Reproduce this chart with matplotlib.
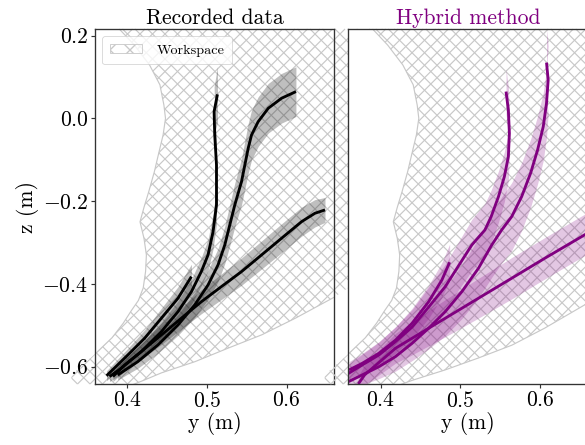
import matplotlib

matplotlib.use("Agg")
import matplotlib.patches as mpatches
import matplotlib.pyplot as plt
import numpy as np
from matplotlib.collections import LineCollection

plt.rcParams["font.family"] = "cmr10"
plt.rcParams["mathtext.fontset"] = "cm"
plt.rcParams["axes.formatter.use_mathtext"] = True
plt.rcParams["hatch.linewidth"] = 1.6

# Workspace boundary (y, z) in metres.
ws_left_y = [0.380, 0.390, 0.409, 0.428, 0.441, 0.446, 0.448, 0.445, 0.440, 0.434, 0.427, 0.421,
             0.416, 0.421, 0.424, 0.423, 0.420, 0.414, 0.405, 0.395, 0.381, 0.362, 0.330]
ws_left_z = [0.26, 0.216, 0.177, 0.129, 0.081, 0.032, 0.0, -0.04, -0.08, -0.129, -0.177, -0.215,
             -0.25, -0.29, -0.33, -0.37, -0.41, -0.44, -0.465, -0.495, -0.53, -0.565, -0.62]
ws_bottom_rec_y = [0.330, 0.390, 0.409, 0.422, 0.443, 0.485, 0.527, 0.569, 0.611, 0.660, 0.700, 0.750, 0.750]
ws_bottom_rec_z = [-0.70, -0.657, -0.642, -0.632, -0.615, -0.588, -0.555, -0.523, -0.483, -0.432, -0.38, -0.38, 0.26]
ws_bottom_hyb_y = [0.330, 0.410, 0.427, 0.440, 0.481, 0.523, 0.565, 0.606, 0.656, 0.700, 0.750, 0.750]
ws_bottom_hyb_z = [-0.70, -0.655, -0.642, -0.633, -0.608, -0.579, -0.548, -0.507, -0.451, -0.40, -0.40, 0.26]

# Recorded trajectories: mean path and spread (std in z) per point.
rec_y = [
    [0.374, 0.4008, 0.4218, 0.4428, 0.4637, 0.4805],
    [0.3777, 0.3925, 0.4176, 0.4428, 0.4637, 0.4805, 0.493, 0.5014, 0.5077, 0.512, 0.512, 0.5098, 0.509, 0.5132],
    [0.388, 0.4133, 0.4385, 0.4637, 0.4847, 0.5014, 0.514, 0.5224, 0.5287, 0.535, 0.5434, 0.5476, 0.5518,
     0.556, 0.5643, 0.577, 0.5937, 0.6117],
    [0.382, 0.3966, 0.4176, 0.4428, 0.4679, 0.4931, 0.5182, 0.5434, 0.5686, 0.5937, 0.6189, 0.6356, 0.6482],
]
rec_z = [
    [-0.622, -0.5717, -0.5314, -0.483, -0.4347, -0.3825],
    [-0.624, -0.604, -0.5637, -0.5154, -0.467, -0.419, -0.370, -0.33, -0.2737, -0.209, -0.1125, -0.04, 0.0163, 0.058],
    [-0.62, -0.5879, -0.5476, -0.4993, -0.4509, -0.4026, -0.354, -0.306, -0.2575, -0.209, -0.153, -0.1125, -0.0722,
     -0.04, -0.008, 0.0245, 0.0487, 0.0647],
    [-0.624, -0.596, -0.5637, -0.5234, -0.483, -0.443, -0.4066, -0.3704, -0.33, -0.2897, -0.2495, -0.2293, -0.2213],
]
rec_std = [
    [0.012, 0.016, 0.02, 0.024, 0.028, 0.03],
    [0.012, 0.014, 0.018, 0.022, 0.026, 0.03, 0.034, 0.038, 0.042, 0.046, 0.05, 0.055, 0.06, 0.067],
    [0.012, 0.016, 0.02, 0.025, 0.03, 0.035, 0.04, 0.045, 0.05, 0.053, 0.056, 0.058, 0.06, 0.06, 0.06, 0.06,
     0.06, 0.06],
    [0.012, 0.015, 0.019, 0.023, 0.026, 0.029, 0.031, 0.033, 0.034, 0.035, 0.035, 0.033, 0.03],
]

# Hybrid method trajectories.
hyb_y = [
    [0.3604, 0.377, 0.398, 0.419, 0.4396, 0.4604, 0.477, 0.4867],
    [0.355, 0.36, 0.377, 0.398, 0.41875, 0.4396, 0.4604, 0.48125, 0.4979, 0.5146, 0.531, 0.5388, 0.548, 0.5554,
     0.5604, 0.5617, 0.5604, 0.5575],
    [0.36, 0.377, 0.398, 0.41875, 0.4396, 0.4604, 0.48125, 0.5021, 0.5229, 0.5396, 0.552, 0.5646, 0.5771, 0.5883,
     0.5971, 0.6042, 0.6083, 0.6104, 0.6083],
    [0.372, 0.38, 0.398, 0.41875, 0.4396, 0.48125, 0.5229, 0.5646, 0.60625, 0.656, 0.68],
]
hyb_z = [
    [-0.608, -0.592, -0.5677, -0.5355, -0.495, -0.443, -0.3905, -0.3478],
    [-0.622, -0.616, -0.596, -0.5717, -0.5396, -0.5043, -0.4559, -0.4066, -0.3562, -0.3059, -0.2697, -0.2375,
     -0.1891, -0.1408, -0.0924, -0.036, 0.0204, 0.0648],
    [-0.636, -0.62, -0.6, -0.5758, -0.5435, -0.5072, -0.467, -0.4187, -0.3622, -0.3059, -0.2697, -0.2375, -0.1891,
     -0.1326, -0.0763, -0.02, 0.0366, 0.093, 0.1348],
    [-0.642, -0.62, -0.59, -0.5556, -0.5314, -0.483, -0.4347, -0.3864, -0.338, -0.2817, -0.255],
]
hyb_std = [
    [0.02, 0.024, 0.028, 0.032, 0.036, 0.04, 0.042, 0.044],
    [0.02, 0.022, 0.026, 0.031, 0.036, 0.042, 0.048, 0.054, 0.058, 0.062, 0.064, 0.064, 0.062, 0.06, 0.058,
     0.056, 0.055, 0.055],
    [0.02, 0.024, 0.029, 0.035, 0.042, 0.05, 0.058, 0.065, 0.072, 0.078, 0.08, 0.082, 0.082, 0.082, 0.082,
     0.082, 0.082, 0.082, 0.08],
    [0.02, 0.024, 0.03, 0.036, 0.04, 0.045, 0.048, 0.05, 0.05, 0.05, 0.05],
]

titles = ["Recorded data", "Hybrid method"]
colors = ["black", "#800080"]
ws_color = "#c8c8c8"


def add_crosshatch(ax, clip_patch, period_px=12.5, lw=1.4):
    # Cross hatch drawn in pixel space so the diamonds keep the picture's spacing.
    bbox = ax.get_window_extent()
    w, h = bbox.width, bbox.height
    segs = []
    for c in np.arange(-h - period_px, w + h + period_px, period_px):
        segs.append([(c / w, 0.0), ((c + h) / w, 1.0)])
        segs.append([(c / w, 0.0), ((c - h) / w, 1.0)])
    lc = LineCollection(segs, transform=ax.transAxes, colors=ws_color, linewidths=lw, zorder=0)
    lc.set_clip_path(clip_patch)
    ax.add_collection(lc, autolim=False)


def draw_panel(ax, ws_bottom_y, ws_bottom_z, traj_y, traj_z, stds, color, band_alpha):
    ws_y = ws_left_y + ws_bottom_y
    ws_z = ws_left_z + ws_bottom_z
    patch = ax.fill(ws_y, ws_z, facecolor="none", edgecolor=ws_color, lw=1.4, zorder=0)[0]
    add_crosshatch(ax, patch)
    for yy, zz, ss in zip(traj_y, traj_z, stds):
        yy = np.asarray(yy)
        zz = np.asarray(zz)
        ss = np.asarray(ss)
        ax.fill_between(yy, zz - ss, zz + ss, color=color, alpha=band_alpha, lw=0, zorder=1)
    for yy, zz in zip(traj_y, traj_z):
        ax.plot(yy, zz, color=color, lw=3.4, zorder=2, solid_capstyle="butt")
    ax.set_xlim(0.3595, 0.6595)
    ax.set_ylim(-0.642, 0.216)
    ax.set_xticks([0.4, 0.5, 0.6])
    ax.set_xlabel("y (m)", fontsize=26, labelpad=2)
    for sp in ax.spines.values():
        sp.set_color("#333333")
        sp.set_linewidth(1.6)
    ax.tick_params(labelsize=26, length=5, width=1.4, color="#333333", pad=3)


def main():
    fig = plt.figure(figsize=(9.75, 7.4167), dpi=60)
    ax0 = fig.add_axes([95 / 585, 61 / 445, 239 / 585, 355 / 445])
    ax1 = fig.add_axes([348.3 / 585, 61 / 445, 239 / 585, 355 / 445])

    draw_panel(ax0, ws_bottom_rec_y, ws_bottom_rec_z, rec_y, rec_z, rec_std, colors[0], 0.25)
    draw_panel(ax1, ws_bottom_hyb_y, ws_bottom_hyb_z, hyb_y, hyb_z, hyb_std, colors[1], 0.22)

    ax0.set_yticks([-0.6, -0.4, -0.2, 0.0, 0.2])
    ax0.set_ylabel("z (m)", fontsize=26, labelpad=4)
    ax1.set_yticks([-0.6, -0.4, -0.2, 0.0, 0.2])
    ax1.tick_params(axis="y", left=False, labelleft=False)

    ax0.set_title(titles[0], fontsize=26, color=colors[0], pad=6)
    ax1.set_title(titles[1], fontsize=26, color=colors[1], pad=6)

    ws_handle = mpatches.Patch(facecolor="none", edgecolor=ws_color, hatch="x", label="Workspace")
    ax0.legend(handles=[ws_handle], loc="upper left", fontsize=17, borderaxespad=0.5, borderpad=0.55,
               handlelength=2.3, handleheight=0.65, handletextpad=1.0, framealpha=0.8, edgecolor="#cccccc")

    fig.savefig("out.png", dpi=60)
    plt.close(fig)


if __name__ == "__main__":
    main()
